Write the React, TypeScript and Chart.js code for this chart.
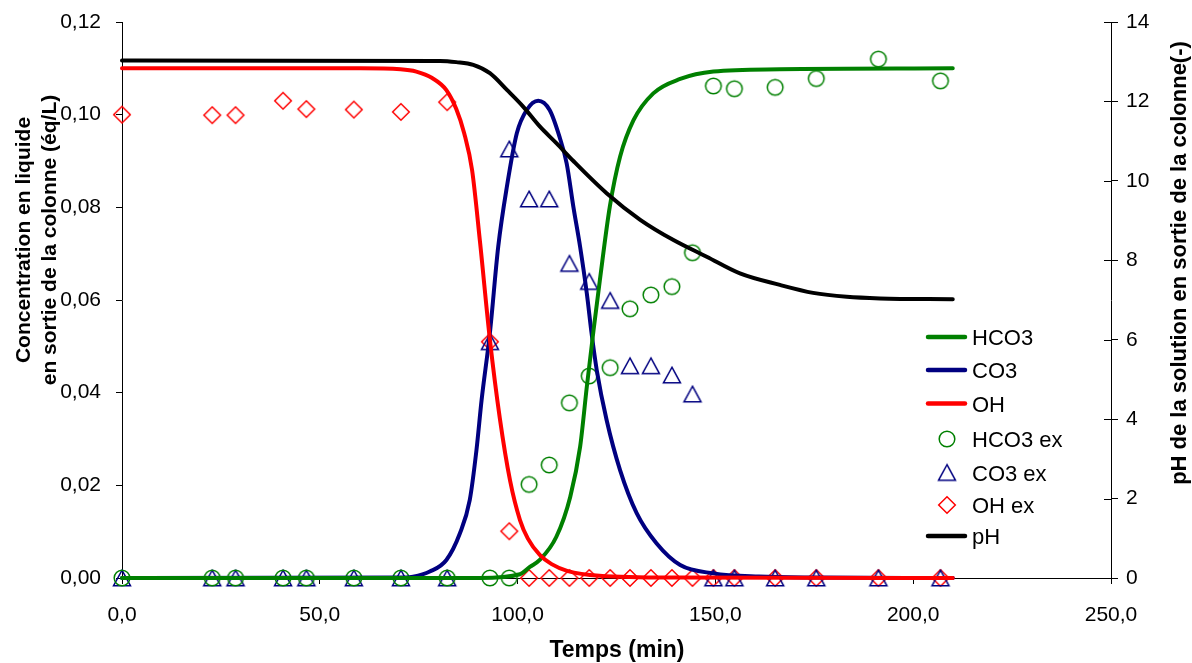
import React, { useEffect, useRef } from 'react';
import { Chart, registerables } from 'chart.js';

Chart.register(...registerables);

// ---- Measured samples (time in min, concentrations in eq/L) ----
const sampleTimes = [0, 22.8, 28.7, 40.7, 46.6, 58.6, 70.5, 82.2, 93.0, 97.9, 102.9, 108.0, 113.1, 118.1, 123.4, 128.4, 133.7, 139.0, 144.2, 149.5, 154.8, 165.1, 175.5, 191.2, 206.9];
const hco3Exp = [0, 0, 0, 0, 0, 0, 0, 0, 0, 0, 0.0202, 0.0244, 0.0378, 0.0436, 0.0454, 0.0581, 0.0611, 0.0629, 0.0702, 0.1062, 0.1056, 0.1059, 0.1078, 0.1120, 0.1073];
const co3Exp = [0, 0, 0, 0, 0, 0, 0, 0, 0.0510, 0.0926, 0.0818, 0.0818, 0.0679, 0.0640, 0.0599, 0.0458, 0.0458, 0.0438, 0.0397, 0, 0, 0, 0, 0, 0];
const ohExp = [0.1000, 0.0999, 0.0999, 0.1030, 0.1012, 0.1011, 0.1006, 0.1027, 0.0510, 0.0101, 0, 0, 0, 0, 0, 0, 0, 0, 0, 0, 0, 0, 0, 0, 0];

// ---- Model curves ----
const hco3ModelTimes = [0, 90.5, 100.6, 103.1, 105.6, 109.8, 113.3, 115.8, 117.5, 119.2, 120.8, 123.3, 125.9, 129.3, 134.3, 141.1, 149.5, 166.3, 210];
const hco3ModelValues = [0, 0, 0.0008, 0.0024, 0.0039, 0.0089, 0.0175, 0.0283, 0.0413, 0.0535, 0.0643, 0.0801, 0.0909, 0.0988, 0.1046, 0.1077, 0.1093, 0.1098, 0.1100];

const co3ModelTimes = [0, 70.4, 73.6, 77.8, 82.0, 85.4, 87.9, 89.6, 90.9, 93.0, 95.1, 97.3, 99.8, 102.3, 105.2, 108.1, 110.6, 112.4, 114.1, 115.8, 117.5, 118.7, 120.0, 122.5, 125.9, 130.1, 135.1, 141.1, 149.5, 161, 176.1, 210];
const co3ModelValues = [0, 0.0001, 0.0003, 0.0014, 0.0039, 0.0096, 0.0168, 0.0276, 0.0384, 0.0529, 0.0715, 0.0845, 0.0960, 0.1010, 0.1030, 0.1010, 0.0952, 0.0895, 0.0801, 0.0715, 0.0614, 0.0528, 0.0449, 0.0341, 0.0233, 0.0140, 0.0075, 0.0028, 0.0010, 0.0003, 0.0001, 0];

const ohModelTimes = [0, 60.3, 70.4, 74.4, 78.4, 82.0, 84.5, 86.5, 88.5, 90.5, 93.0, 95.5, 98.1, 100.6, 102.6, 105.6, 108.6, 112.7, 120.7, 140.9, 210];
const ohModelValues = [0.1100, 0.1100, 0.1098, 0.1093, 0.1079, 0.1053, 0.1012, 0.0960, 0.0880, 0.0725, 0.0514, 0.0345, 0.0210, 0.0125, 0.0085, 0.0050, 0.0030, 0.0015, 0.0005, 0.0001, 0];

const phModelTimes = [0, 80.4, 84.5, 88.8, 93.0, 97.3, 101.4, 105.6, 109.8, 114.1, 122.5, 131.0, 139.4, 147.8, 156.2, 166.3, 174.7, 183.2, 191.6, 210];
const phModelValues = [13.03, 13.02, 12.99, 12.92, 12.71, 12.29, 11.87, 11.37, 10.95, 10.50, 9.69, 9.02, 8.51, 8.09, 7.67, 7.38, 7.18, 7.08, 7.04, 7.02];

// ---- Labels ----
const legendLabels = ['HCO3', 'CO3', 'OH', 'HCO3 ex', 'CO3 ex', 'OH ex', 'pH'];
const xTitle = 'Temps (min)';
const yTitleLines = ['Concentration en liquide', 'en sortie de la colonne (éq/L)'];
const y2Title = 'pH de la solution en sortie de la colonne(-)';

const GREEN = '#008000';
const NAVY = '#000080';
const RED = '#FF0000';
const BLACK = '#000000';
const FONT = '"Liberation Sans", Arial, sans-serif';

function zip(xs: number[], ys: number[]) {
  return xs.map((x, i) => ({ x, y: ys[i] }));
}

function makeMarker(kind: string, color: string): HTMLCanvasElement {
  const c = document.createElement('canvas');
  c.width = 22;
  c.height = 22;
  const g = c.getContext('2d') as CanvasRenderingContext2D;
  g.strokeStyle = color;
  g.lineWidth = 1.5;
  g.beginPath();
  if (kind === 'circle') {
    g.arc(11, 11, 7.8, 0, Math.PI * 2);
  } else if (kind === 'triangle') {
    g.moveTo(11, 3.2);
    g.lineTo(19.5, 18.8);
    g.lineTo(2.5, 18.8);
    g.closePath();
  } else {
    g.moveTo(11, 2.7);
    g.lineTo(19.3, 11);
    g.lineTo(11, 19.3);
    g.lineTo(2.7, 11);
    g.closePath();
  }
  g.stroke();
  return c;
}

export default function App() {
  const ref = useRef<HTMLCanvasElement | null>(null);

  useEffect(() => {
    if (!ref.current) return;
    const circle = makeMarker('circle', GREEN);
    const tri = makeMarker('triangle', NAVY);
    const diamond = makeMarker('diamond', RED);

    const lineDs = (label: string, xs: number[], ys: number[], color: string, order: number, axis: string) => ({
      label,
      data: zip(xs, ys),
      showLine: true,
      borderColor: color,
      backgroundColor: color,
      borderWidth: 4,
      pointRadius: 0,
      cubicInterpolationMode: 'monotone' as const,
      borderCapStyle: 'round' as const,
      order,
      yAxisID: axis,
      clip: false as const,
    });
    const markDs = (label: string, ys: number[], style: HTMLCanvasElement, color: string, order: number) => ({
      label,
      data: zip(sampleTimes, ys),
      showLine: false,
      borderColor: color,
      backgroundColor: 'transparent',
      pointStyle: style,
      pointRadius: 8,
      order,
      yAxisID: 'y',
      clip: false as const,
    });

    const overlay = {
      id: 'overlay',
      afterDraw(chart: any) {
        const ctx: CanvasRenderingContext2D = chart.ctx;
        const area = chart.chartArea;
        const y2 = chart.scales.y2;
        ctx.save();
        // inner half of the crossing ticks on the right axis
        ctx.strokeStyle = '#000';
        ctx.lineWidth = 1;
        y2.ticks.forEach((t: any) => {
          const py = Math.round(y2.getPixelForValue(t.value)) + 0.5;
          ctx.beginPath();
          ctx.moveTo(area.right - 7, py);
          ctx.lineTo(area.right, py);
          ctx.stroke();
        });
        // axis titles
        ctx.fillStyle = '#000';
        ctx.textAlign = 'center';
        ctx.textBaseline = 'middle';
        ctx.font = 'bold 23px ' + FONT;
        ctx.fillText(xTitle, 617, 651);
        const rot = (txt: string, x: number, y: number) => {
          ctx.save();
          ctx.translate(x, y);
          ctx.rotate(-Math.PI / 2);
          ctx.fillText(txt, 0, 0);
          ctx.restore();
        };
        ctx.font = 'bold 21px ' + FONT;
        rot(yTitleLines[0], 24, 240);
        rot(yTitleLines[1], 50, 240);
        ctx.font = 'bold 22px ' + FONT;
        rot(y2Title, 1180, 263);
        // legend
        ctx.font = '22px ' + FONT;
        ctx.textAlign = 'left';
        const items = [
          { t: legendLabels[0], kind: 'line', color: GREEN, y: 337 },
          { t: legendLabels[1], kind: 'line', color: NAVY, y: 370 },
          { t: legendLabels[2], kind: 'line', color: RED, y: 403.5 },
          { t: legendLabels[3], kind: 'img', img: circle, y: 439 },
          { t: legendLabels[4], kind: 'img', img: tri, y: 472.5 },
          { t: legendLabels[5], kind: 'img', img: diamond, y: 505 },
          { t: legendLabels[6], kind: 'line', color: BLACK, y: 536 },
        ];
        items.forEach((it: any) => {
          if (it.kind === 'line') {
            ctx.strokeStyle = it.color;
            ctx.lineWidth = 4.5;
            ctx.lineCap = 'round';
            ctx.beginPath();
            ctx.moveTo(928, it.y);
            ctx.lineTo(965, it.y);
            ctx.stroke();
          } else {
            const img = it.img as HTMLCanvasElement;
            ctx.drawImage(img, 947 - img.width / 2, it.y - img.height / 2);
          }
          ctx.fillStyle = '#000';
          ctx.fillText(it.t, 972, it.y + 2);
        });
        ctx.restore();
      },
    };

    const tickFont = { family: FONT, size: 21 };

    const chart = new Chart(ref.current, {
      type: 'scatter',
      data: {
        datasets: [
          lineDs(legendLabels[0], hco3ModelTimes, hco3ModelValues, GREEN, 2, 'y'),
          lineDs(legendLabels[1], co3ModelTimes, co3ModelValues, NAVY, 3, 'y'),
          lineDs(legendLabels[2], ohModelTimes, ohModelValues, RED, 1, 'y'),
          markDs(legendLabels[3], hco3Exp, circle, GREEN, 4),
          markDs(legendLabels[4], co3Exp, tri, NAVY, 5),
          markDs(legendLabels[5], ohExp, diamond, RED, 6),
          lineDs(legendLabels[6], phModelTimes, phModelValues, BLACK, 0, 'y2'),
        ] as any,
      },
      options: {
        responsive: false,
        animation: false,
        layout: { padding: { top: 22, left: 0, right: 0, bottom: 0 } },
        plugins: {
          legend: { display: false },
          tooltip: { enabled: false },
          title: { display: false },
        },
        scales: {
          x: {
            type: 'linear',
            position: 'bottom',
            min: 0,
            max: 250,
            afterFit: (s: any) => { s.height = 85; s.paddingLeft = 0; s.paddingRight = 0; },
            grid: { drawOnChartArea: false, drawTicks: true, tickLength: 6, color: '#000' },
            border: { display: true, color: '#000', width: 1 },
            ticks: {
              stepSize: 50,
              autoSkip: false,
              maxRotation: 0,
              padding: 19,
              color: '#000',
              font: tickFont,
              callback: (v: any) => Number(v).toFixed(1).replace('.', ','),
            },
          },
          y: {
            type: 'linear',
            position: 'left',
            min: 0,
            max: 0.12,
            afterFit: (s: any) => { s.width = 122; s.paddingTop = 0; s.paddingBottom = 0; },
            grid: { drawOnChartArea: false, drawTicks: true, tickLength: 6, color: '#000' },
            border: { display: true, color: '#000', width: 1 },
            ticks: {
              stepSize: 0.02,
              padding: 15,
              color: '#000',
              font: tickFont,
              callback: (v: any) => Number(v).toFixed(2).replace('.', ','),
            },
          },
          y2: {
            type: 'linear',
            position: 'right',
            min: 0,
            max: 14,
            afterFit: (s: any) => { s.width = 81; s.paddingTop = 0; s.paddingBottom = 0; },
            grid: { drawOnChartArea: false, drawTicks: true, tickLength: 7, color: '#000' },
            border: { display: true, color: '#000', width: 1 },
            ticks: {
              stepSize: 2,
              padding: 8,
              color: '#000',
              font: tickFont,
              callback: (v: any) => String(Math.round(Number(v))),
            },
          },
        },
      } as any,
      plugins: [overlay],
    });
    return () => chart.destroy();
  }, []);

  return (
    <div style={{ position: 'fixed', left: 0, top: 0, width: 1192, height: 663, background: '#fff' }}>
      <canvas ref={ref} width={1192} height={663} style={{ display: 'block', width: 1192, height: 663 }} />
    </div>
  );
}
